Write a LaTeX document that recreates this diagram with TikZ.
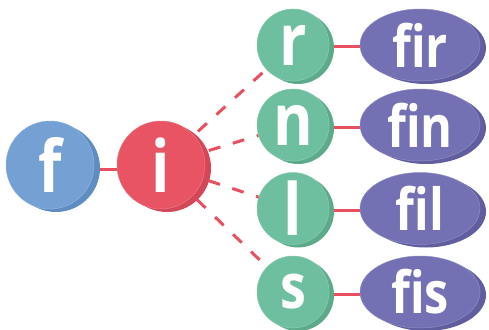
\documentclass[tikz,border=0pt]{standalone}
\usepackage{fontspec}
\setmainfont{Open Sans}
\newfontfamily\narrowfont{Open Sans}[FakeStretch=0.84]
\usetikzlibrary{shapes.geometric}
\definecolor{fblue}{HTML}{74A0D4}
\definecolor{fbluedk}{HTML}{5F8DC2}
\definecolor{ired}{HTML}{E85464}
\definecolor{ireddk}{HTML}{D34758}
\definecolor{lgreen}{HTML}{6DBF9F}
\definecolor{lgreendk}{HTML}{5DAA8B}
\definecolor{wpurple}{HTML}{7371B4}
\definecolor{wpurpledk}{HTML}{615EA0}
\definecolor{link}{HTML}{E8505F}
\pgfdeclarelayer{linklayer}
\pgfdeclarelayer{shadelayer}
\pgfsetlayers{linklayer,shadelayer,main}
\tikzset{
  ball/.style={circle, inner sep=0pt, minimum size=#1, text=white, line width=0.5pt,
    font=\narrowfont\fontsize{72}{72}\selectfont\bfseries},
  fball/.style={ball=88pt, fill=fblue, draw=fblue!80!white},
  iball/.style={ball=88pt, fill=ired, draw=ired!80!white},
  gball/.style={ball=72pt, fill=lgreen, draw=lgreen!80!white},
  word/.style={ellipse, inner sep=0pt, minimum width=120pt, minimum height=72pt,
    text=white, fill=wpurple, draw=wpurple!80!white, line width=0.5pt,
    font=\narrowfont\fontsize{58}{58}\selectfont\bfseries},
  solidlink/.style={draw=link, line width=3pt},
  dashlink/.style={draw=link, line width=3pt, dash pattern=on 12pt off 13pt},
}
\begin{document}
\begin{tikzpicture}[x=1pt, y=-1pt]
\useasboundingbox (0,0) rectangle (489,329);
% front nodes
\node[fball] (f) at (50,165) {f};
\node[iball] (i) at (161,165) {i};
\node[gball] (r) at (293,45) {r};
\node[gball] (n) at (293,125) {n};
\node[gball] (l) at (293,208.5) {l};
\node[gball, font=\narrowfont\fontsize{62}{62}\selectfont\bfseries] (s) at (293,292) {s};
\node[word] (fir) at (420,45) {fir};
\node[word] (fin) at (420,125) {fin};
\node[word] (fil) at (420,208.5) {fil};
\node[word] (fis) at (420,292) {fis};
% darker backs
\begin{pgfonlayer}{shadelayer}
  \fill[fbluedk] ([shift={(6pt,-3pt)}]f.center) circle[radius=44pt];
  \fill[ireddk] ([shift={(6pt,-3pt)}]i.center) circle[radius=44pt];
  \foreach \g in {r,n,l,s}
    \fill[lgreendk] ([shift={(5pt,-3pt)}]\g.center) circle[radius=36pt];
  \foreach \w in {fir,fin,fil,fis}
    \fill[wpurpledk] ([shift={(6pt,-3pt)}]\w.center) ellipse[x radius=60pt, y radius=36pt];
\end{pgfonlayer}
% connectors
\begin{pgfonlayer}{linklayer}
  \draw[solidlink] ([yshift=-4pt]f.center) -- ([yshift=-4pt]i.center);
  \foreach \g in {r,n,l,s}
    \draw[dashlink] (i.center) -- (\g.center);
  \draw[solidlink] ([yshift=-2pt]r.center) -- ([yshift=-2pt]fir.center);
  \draw[solidlink] ([yshift=-2pt]n.center) -- ([yshift=-2pt]fin.center);
  \draw[solidlink] ([yshift=-2pt]l.center) -- ([yshift=-2pt]fil.center);
  \draw[solidlink] ([yshift=-2pt]s.center) -- ([yshift=-2pt]fis.center);
\end{pgfonlayer}
\end{tikzpicture}
\end{document}
